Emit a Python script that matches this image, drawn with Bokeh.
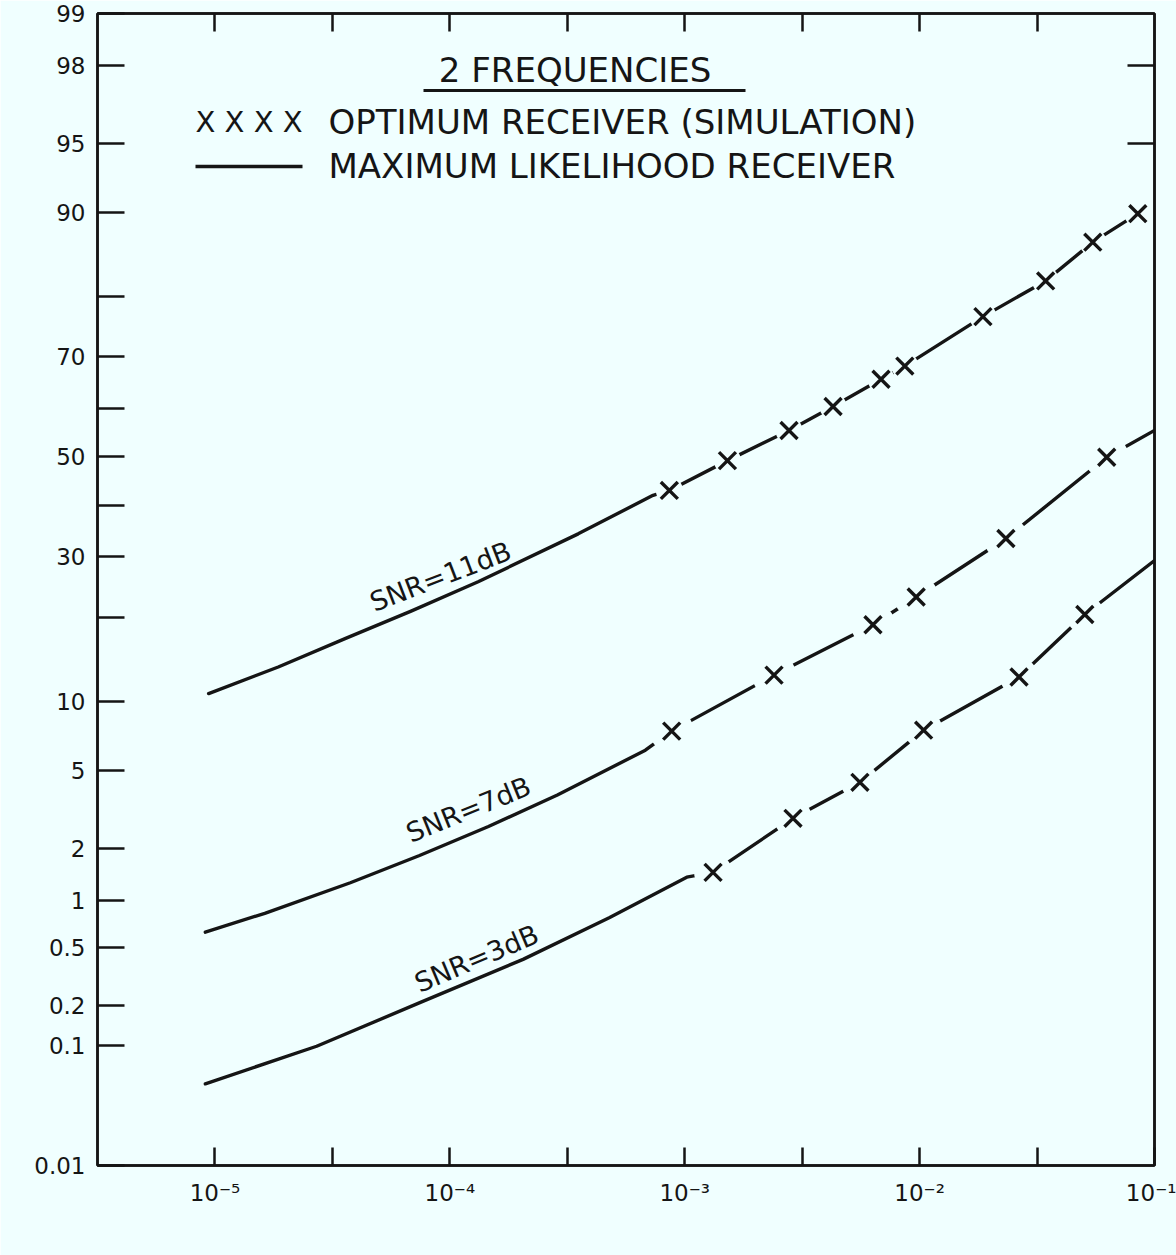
import math
from statistics import NormalDist

from bokeh.plotting import figure
from bokeh.models import Range1d, FixedTicker, LinearAxis, LogAxis, Label
from bokeh.embed import file_html
from bokeh.resources import INLINE

# ---------------------------------------------------------------- data
# Maximum likelihood receiver (solid part of each curve): P_F and P_D (%)
ml11_pf = [9.4e-6, 1.86e-5, 3.58e-5, 6.84e-5, 1.32e-4, 3.52e-4, 7.33e-4]
ml11_pd = [10.7, 13.5, 17.0, 20.9, 25.6, 34.3, 42.0]
ml7_pf = [9.1e-6, 1.63e-5, 3.77e-5, 7.43e-5, 1.46e-4, 2.87e-4, 6.8e-4]
ml7_pd = [0.63, 0.83, 1.27, 1.82, 2.62, 3.80, 6.18]
ml3_pf = [9.1e-6, 2.71e-5, 7.41e-5, 2.05e-4, 4.77e-4, 1.02e-3]
ml3_pd = [0.050, 0.099, 0.208, 0.418, 0.778, 1.37]

# Optimum receiver (simulation) points, marked with X
sim11_pf = [8.6e-4, 1.52e-3, 2.78e-3, 4.28e-3, 6.85e-3, 8.65e-3, 1.86e-2, 3.44e-2, 5.46e-2, 8.49e-2]
sim11_pd = [43.0, 49.2, 55.5, 60.4, 65.8, 68.3, 76.9, 82.2, 87.0, 89.9]
sim7_pf = [8.8e-4, 2.40e-3, 6.33e-3, 9.67e-3, 2.33e-2, 6.26e-2]
sim7_pd = [7.5, 12.6, 18.9, 23.1, 33.4, 49.9]
sim3_pf = [1.32e-3, 2.89e-3, 5.57e-3, 1.04e-2, 2.65e-2, 5.05e-2]
sim3_pd = [1.46, 2.89, 4.38, 7.57, 12.4, 20.4]

# continuation of the curves up to the right edge
tail11_pf, tail11_pd = [], []
tail7_pf, tail7_pd = [0.1], [55.5]
tail3_pf, tail3_pd = [0.1], [29.3]

SNR_LABELS = ["SNR=11dB", "SNR=7dB", "SNR=3dB"]

# axis ticks
PD_TICKS = [99, 98, 95, 90, 80, 70, 60, 50, 40, 30, 20, 10, 5, 2, 1, 0.5, 0.2, 0.1, 0.01]
PD_TICK_LABELS = ["99", "98", "95", "90", "", "70", "", "50", "", "30", "", "10",
                  "5", "2", "1", "0.5", "0.2", "0.1", "0.01"]
PD_RIGHT_TICKS = [98, 95]
PF_TICK_EXP = [-5, -4.5, -4, -3.5, -3, -2.5, -2, -1.5, -1]
PF_TICK_LABELS = ["10⁻⁵", "", "10⁻⁴", "", "10⁻³", "", "10⁻²", "", "10⁻¹"]

TITLE = "2  FREQUENCIES"
LEG_SIM_MARK = "X X X X"
LEG_SIM = "OPTIMUM RECEIVER (SIMULATION)"
LEG_ML = "MAXIMUM LIKELIHOOD RECEIVER"

# ---------------------------------------------------------------- style
BG = "#F0FFFF"
INK = "#151515"
FONT = "DejaVu Sans"

_nd = NormalDist()


def pz(pct):
    """probability-paper coordinate of a percentage"""
    return _nd.inv_cdf(pct / 100.0)


W, H = 1176, 1255
F_LEFT, F_RIGHT, F_TOP, F_BOTTOM = 97, 1154, 13, 1165
x_lo, x_hi = 10 ** -5.5, 10 ** -1
y_lo, y_hi = pz(0.01), pz(99)

p = figure(width=W, height=H, x_axis_type="log",
           x_range=Range1d(x_lo, x_hi), y_range=Range1d(y_lo, y_hi),
           output_backend="svg", toolbar_location=None, title=None,
           min_border_left=F_LEFT, min_border_right=W - F_RIGHT,
           min_border_top=F_TOP, min_border_bottom=H - F_BOTTOM,
           background_fill_color=BG, border_fill_color=BG,
           outline_line_color=INK, outline_line_width=2.5)
p.grid.visible = False


def style_axis(ax, tick_len):
    ax.axis_line_color = INK
    ax.axis_line_width = 2.5
    ax.major_tick_line_color = INK
    ax.major_tick_line_width = 2.5
    ax.major_tick_in = tick_len
    ax.major_tick_out = 0
    ax.minor_tick_line_color = None
    ax.major_label_text_font = FONT
    ax.major_label_text_font_size = "23px"
    ax.major_label_text_color = INK


pf_ticks = [10 ** e for e in PF_TICK_EXP]
xb = p.xaxis[0]
xb.ticker = FixedTicker(ticks=pf_ticks)
xb.major_label_overrides = dict(zip(pf_ticks, PF_TICK_LABELS))
style_axis(xb, 18)
xb.major_label_standoff = 14

pd_ticks = [pz(v) for v in PD_TICKS]
yl = p.yaxis[0]
yl.ticker = FixedTicker(ticks=pd_ticks)
yl.major_label_overrides = dict(zip(pd_ticks, PD_TICK_LABELS))
style_axis(yl, 27)
yl.major_label_standoff = 12

top_ticks = pf_ticks[:-1]
xt = LogAxis(ticker=FixedTicker(ticks=top_ticks),
             major_label_overrides={t: "" for t in top_ticks})
style_axis(xt, 18)
xt.major_label_standoff = 0
p.add_layout(xt, "above")

r_ticks = [pz(v) for v in PD_RIGHT_TICKS]
yr = LinearAxis(ticker=FixedTicker(ticks=r_ticks),
                major_label_overrides={t: "" for t in r_ticks})
style_axis(yr, 27)
yr.major_label_standoff = 0
p.add_layout(yr, "right")

# ---------------------------------------------------------------- curves
# (solid ML part, simulation marks, tail, size of the gap left round each mark)
curves = [
    (ml11_pf, ml11_pd, sim11_pf, sim11_pd, tail11_pf, tail11_pd, 27),
    (ml7_pf, ml7_pd, sim7_pf, sim7_pd, tail7_pf, tail7_pd, 44),
    (ml3_pf, ml3_pd, sim3_pf, sim3_pd, tail3_pf, tail3_pd, 38),
]
for ml_pf, ml_pd, s_pf, s_pd, t_pf, t_pd, _ in curves:
    xs = ml_pf + s_pf + t_pf
    ys = [pz(v) for v in ml_pd + s_pd + t_pd]
    p.line(xs, ys, line_color=INK, line_width=3.4, line_cap="round", line_join="round")

# gaps in the line around each simulation mark, then the marks
for _, _, s_pf, s_pd, _, _, gap in curves:
    p.scatter(s_pf, [pz(v) for v in s_pd], marker="circle", size=gap,
              fill_color=BG, line_color=None)
for _, _, s_pf, s_pd, _, _, _ in curves:
    p.scatter(s_pf, [pz(v) for v in s_pd], marker="x", size=24,
              line_color=INK, line_width=3.4)


# ---------------------------------------------------------------- annotations
def at(px, py):
    """page pixel -> data coordinates (for placing annotation text)"""
    lx = math.log10(x_lo) + (px - F_LEFT) / (F_RIGHT - F_LEFT) * (math.log10(x_hi) - math.log10(x_lo))
    yy = y_hi - (py - F_TOP) / (F_BOTTOM - F_TOP) * (y_hi - y_lo)
    return 10 ** lx, yy


def label(px, py, text, size, align="center", angle=0.0, style="normal"):
    x, y = at(px, py)
    p.add_layout(Label(x=x, y=y, text=text, text_font=FONT, text_font_size=size,
                       text_color=INK, text_align=align, text_baseline="middle",
                       text_font_style=style, angle=math.radians(angle)))


label(580, 69, TITLE, "34px")
ux0, uy = at(423, 90)
ux1, _ = at(745, 90)
p.segment(x0=[ux0], y0=[uy], x1=[ux1], y1=[uy], line_color=INK, line_width=3)

label(195, 121, LEG_SIM_MARK, "29px", align="left")
label(328, 121, LEG_SIM, "34px", align="left")
lx0, ly = at(195, 166)
lx1, _ = at(302, 166)
p.segment(x0=[lx0], y0=[ly], x1=[lx1], y1=[ly], line_color=INK, line_width=3.5)
label(328, 165, LEG_ML, "34px", align="left")

label(440, 576, SNR_LABELS[0], "27px", angle=21)
label(468, 809, SNR_LABELS[1], "27px", angle=22)
label(476, 958, SNR_LABELS[2], "27px", angle=23)

# axis titles P_D and P_F
label(20, 609, "P", "30px", style="bold")
label(45, 624, "D", "21px", style="bold")
label(581, 1231, "P", "30px", style="bold")
label(604, 1242, "F", "20px", style="bold")

open("out.html", "w").write(file_html(p, INLINE))
